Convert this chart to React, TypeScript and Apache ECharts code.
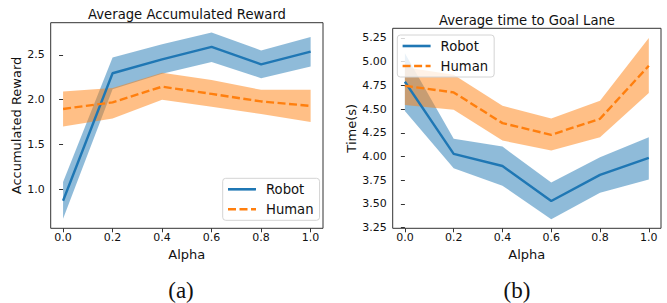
import React, { useEffect, useRef } from "react";
import * as echarts from "echarts";

const alpha = [0, 0.2, 0.4, 0.6, 0.8, 1.0];
const xTicks = [0, 0.2, 0.4, 0.6, 0.8, 1.0];

const rewardRobot = [0.87, 2.295, 2.45, 2.59, 2.395, 2.537];
const rewardRobotLow = [0.67, 2.115, 2.29, 2.42, 2.24, 2.37];
const rewardRobotHigh = [1.08, 2.47, 2.62, 2.75, 2.55, 2.7];
const rewardHuman = [1.896, 1.97, 2.145, 2.064, 1.98, 1.93];
const rewardHumanLow = [1.7, 1.79, 2.0, 1.92, 1.84, 1.75];
const rewardHumanHigh = [2.09, 2.13, 2.3, 2.22, 2.11, 2.11];
const rewardTicks = [1.0, 1.5, 2.0, 2.5];

const timeRobot = [4.788, 4.028, 3.9, 3.531, 3.806, 3.985];
const timeRobotLow = [4.48, 3.877, 3.693, 3.338, 3.619, 3.758];
const timeRobotHigh = [5.09, 4.186, 4.105, 3.725, 3.993, 4.204];
const timeHuman = [4.746, 4.676, 4.352, 4.229, 4.398, 4.957];
const timeHumanLow = [4.543, 4.493, 4.168, 4.063, 4.204, 4.669];
const timeHumanHigh = [4.94, 4.862, 4.535, 4.401, 4.588, 5.25];
const timeTicks = [3.25, 3.5, 3.75, 4.0, 4.25, 4.5, 4.75, 5.0, 5.25];

const BLUE = "#1f77b4";
const ORANGE = "#ff7f0e";
const FONT = "DejaVu Sans";
const TXT = "#111";

const pairs = (ys: number[]) => alpha.map((x, i) => [x, ys[i]]);

function band(name: string, idx: number, lo: number[], hi: number[], color: string) {
  return {
    name,
    type: "custom",
    xAxisIndex: idx,
    yAxisIndex: idx,
    silent: true,
    data: alpha.map((x, i) => [x, lo[i], hi[i]]),
    encode: { x: 0, y: [1, 2] },
    renderItem: (params: any, api: any) => {
      if (params.dataIndex !== 0) return null;
      const pts: number[][] = [];
      for (let i = 0; i < alpha.length; i++) pts.push(api.coord([alpha[i], hi[i]]));
      for (let i = alpha.length - 1; i >= 0; i--) pts.push(api.coord([alpha[i], lo[i]]));
      return {
        type: "polygon",
        shape: { points: pts },
        style: { fill: color, opacity: 0.5 },
      };
    },
  };
}

function line(name: string, idx: number, ys: number[], color: string, dashed: boolean) {
  return {
    name,
    type: "line",
    xAxisIndex: idx,
    yAxisIndex: idx,
    data: pairs(ys),
    symbol: "none",
    lineStyle: { color, width: 2.4, type: dashed ? [8, 3.5] : "solid" },
    itemStyle: { color },
  };
}

function xAxis(idx: number) {
  return {
    type: "value",
    gridIndex: idx,
    min: -0.05,
    max: 1.05,
    name: "Alpha",
    nameLocation: "middle",
    nameGap: 15,
    nameTextStyle: { fontFamily: FONT, fontSize: 13, color: TXT },
    splitLine: { show: false },
    axisLine: { show: false },
    axisTick: { show: true, length: 4, customValues: xTicks, lineStyle: { color: "#333", width: 1 } },
    axisLabel: {
      customValues: xTicks,
      formatter: (v: number) => v.toFixed(1),
      fontFamily: FONT,
      fontSize: 11,
      color: TXT,
      margin: 4,
    },
  };
}

function yAxis(idx: number, min: number, max: number, ticks: number[], digits: number, name: string, gap: number) {
  return {
    type: "value",
    gridIndex: idx,
    min,
    max,
    name,
    nameLocation: "middle",
    nameGap: gap,
    nameTextStyle: { fontFamily: FONT, fontSize: 13, color: TXT },
    splitLine: { show: false },
    axisLine: { show: false },
    axisTick: { show: true, length: 4, customValues: ticks, lineStyle: { color: "#333", width: 1 } },
    axisLabel: {
      customValues: ticks,
      formatter: (v: number) => v.toFixed(digits),
      fontFamily: FONT,
      fontSize: 11,
      color: TXT,
      margin: 6,
    },
  };
}

function legend(left: number, top: number) {
  return {
    data: ["Robot", "Human"],
    orient: "vertical",
    left,
    top,
    padding: [4, 6, 4, 4],
    itemWidth: 28,
    itemHeight: 14,
    itemGap: 6,
    backgroundColor: "rgba(255,255,255,0.8)",
    borderColor: "#d4d4d4",
    borderWidth: 1,
    borderRadius: 3,
    selectedMode: false,
    itemStyle: { color: "rgba(0,0,0,0)", borderWidth: 0, opacity: 0 },
    lineStyle: { width: 2.6 },
    textStyle: { fontFamily: FONT, fontSize: 13.2, color: TXT, padding: [0, 0, 0, 5], lineHeight: 14 },
  };
}

export default function App() {
  const ref = useRef<HTMLDivElement>(null);
  useEffect(() => {
    if (!ref.current) return;
    const chart = echarts.init(ref.current, null, { renderer: "svg" });
    chart.setOption({
      animation: false,
      backgroundColor: "#fff",
      grid: [
        { left: 50.7, top: 22.7, width: 272.3, height: 205.6, show: true, borderColor: "#333", borderWidth: 1, backgroundColor: "transparent" },
        { left: 392.7, top: 28.3, width: 268.3, height: 200, show: true, borderColor: "#333", borderWidth: 1, backgroundColor: "transparent" },
      ],
      xAxis: [xAxis(0), xAxis(1)],
      yAxis: [
        yAxis(0, 0.562, 2.86, rewardTicks, 1, "Accumulated Reward", 27),
        yAxis(1, 3.243, 5.352, timeTicks, 2, "Time(s)", 33),
      ],
      legend: [legend(222.7, 178.3), legend(397.3, 35)],
      series: [
        line("Robot", 0, rewardRobot, BLUE, false),
        band("rr", 0, rewardRobotLow, rewardRobotHigh, BLUE),
        line("Human", 0, rewardHuman, ORANGE, true),
        band("rh", 0, rewardHumanLow, rewardHumanHigh, ORANGE),
        line("Robot", 1, timeRobot, BLUE, false),
        band("tr", 1, timeRobotLow, timeRobotHigh, BLUE),
        line("Human", 1, timeHuman, ORANGE, true),
        band("th", 1, timeHumanLow, timeHumanHigh, ORANGE),
      ],
      graphic: [
        { type: "text", x: 187, y: 14, style: { text: "Average Accumulated Reward", fontFamily: FONT, fontSize: 13.2, fill: TXT, align: "center", verticalAlign: "middle" } },
        { type: "text", x: 527, y: 20.5, style: { text: "Average time to Goal Lane", fontFamily: FONT, fontSize: 13.2, fill: TXT, align: "center", verticalAlign: "middle" } },
        { type: "text", x: 181, y: 290, style: { text: "(a)", fontFamily: "Liberation Serif", fontSize: 23, fill: "#111", align: "center", verticalAlign: "middle" } },
        { type: "text", x: 517, y: 290, style: { text: "(b)", fontFamily: "Liberation Serif", fontSize: 23, fill: "#111", align: "center", verticalAlign: "middle" } },
      ],
    });
    return () => chart.dispose();
  }, []);
  return <div ref={ref} style={{ position: "fixed", left: 0, top: 0, width: 667, height: 303 }} />;
}
